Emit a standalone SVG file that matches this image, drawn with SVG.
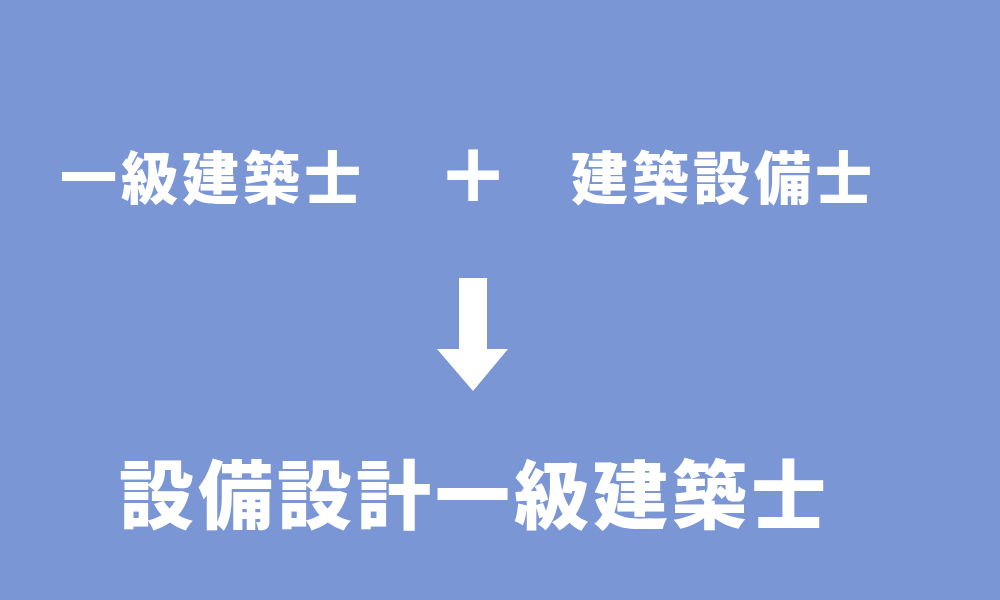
<svg xmlns="http://www.w3.org/2000/svg" width="1000" height="600" viewBox="0 0 1000 600">
<style>
.t{font-family:"Noto Sans CJK JP","Noto Sans CJK SC",sans-serif;font-weight:900;fill:#ffffff;dominant-baseline:central}
.s{font-size:57px;letter-spacing:4px}
.b{font-size:75px;letter-spacing:4px}
.p{font-family:"DejaVu Sans",sans-serif;font-weight:bold;font-size:82px;fill:#ffffff;text-anchor:middle;dominant-baseline:central}
</style>
<rect width="1000" height="600" fill="#7b96d5"/>
<g id="node-left"><text class="t s" x="60" y="174">一級建築士</text></g>
<g id="node-plus"><text class="p" x="473" y="172">+</text></g>
<g id="node-right"><text class="t s" x="571" y="174">建築設備士</text></g>
<g id="connectors">
<polygon points="459,278 487,278 487,349 508,349 473,391 437,349 459,349" fill="#ffffff"/>
</g>
<g id="node-result"><text class="t b" x="119" y="490">設備設計一級建築士</text></g>
</svg>
